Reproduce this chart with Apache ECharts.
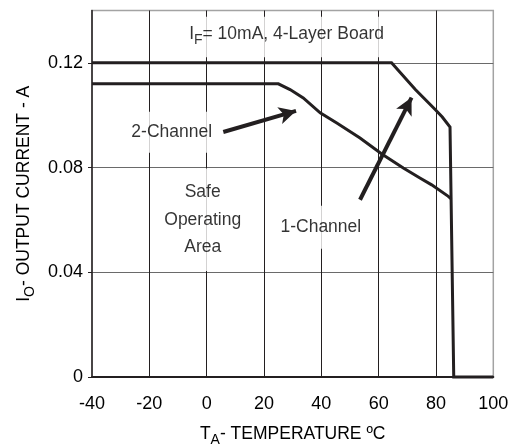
<!DOCTYPE html>
<html><head><meta charset="utf-8">
<script src="https://cdn.jsdelivr.net/npm/echarts@6/dist/echarts.min.js"></script>
<style>html,body{margin:0;padding:0;background:#fff}#c{width:512px;height:447px}</style>
</head><body><div id="c"></div>
<script>
// ---- data ----
const xTicks = [-40, -20, 0, 20, 40, 60, 80, 100];
const yTicks = [0, 0.04, 0.08, 0.12];
const oneChannelT = [-40, 64.5, 72.8, 79.8, 82.2, 84.9, 86.2, 100];
const oneChannelI = [0.12, 0.12, 0.1098, 0.1021, 0.0993, 0.0955, 0, 0];
const twoChannelT = [-40, 25, 29.1, 33.7, 39.6, 45.4, 53.5, 61.1, 68.6, 74.4, 78.5, 84.3, 85.3];
const twoChannelI = [0.112, 0.112, 0.1098, 0.1066, 0.1009, 0.097, 0.0913, 0.0852, 0.0798, 0.076, 0.0734, 0.069, 0.068];

const FONT = "'Liberation Sans','Arial',sans-serif";
const INK = '#231f20';
const TXT = '#000000';
const FS = 17.5;

const pairs = (xs, ys) => xs.map((x, i) => [x, ys[i]]);
const mainTok = {fontSize: FS, lineHeight: FS, verticalAlign: 'top', fontFamily: FONT, color: TXT};
const subTok = {fontSize: 14, lineHeight: 14, padding: [8, 0, 0, 0], verticalAlign: 'top', fontFamily: FONT, color: TXT};

function note(x, y, text, pad, lh, rich) {
  return {
    value: [x, y],
    label: {
      show: true, position: 'inside', formatter: text,
      fontSize: FS, lineHeight: lh || FS, fontFamily: FONT, color: TXT,
      backgroundColor: '#fff', padding: pad, align: 'center', verticalAlign: 'middle',
      rich: rich
    }
  };
}

const chart = echarts.init(document.getElementById('c'), null, {renderer: 'canvas'});
chart.setOption({
  animation: false,
  backgroundColor: '#fff',
  grid: {left: 92, right: 18.7, top: 10.5, bottom: 70, show: true, borderColor: '#a3a3a3', borderWidth: 1.5,
         containLabel: false, outerBoundsMode: 'none'},
  xAxis: {
    type: 'value', min: xTicks[0], max: xTicks[xTicks.length - 1], interval: 20,
    axisLine: {show: true, onZero: false, lineStyle: {color: INK, width: 2}},
    axisTick: {show: false},
    axisLabel: {margin: 18.5, fontSize: 18, color: TXT, fontFamily: FONT},
    splitLine: {show: true, showMinLine: false, showMaxLine: false, lineStyle: {color: INK, width: 1}},
    name: '{m|T}{s|A}{m|- TEMPERATURE ºC}', nameLocation: 'middle', nameGap: 48,
    nameTextStyle: {rich: {m: mainTok, s: subTok}}
  },
  yAxis: {
    type: 'value', min: yTicks[0], max: 0.14, interval: 0.04,
    axisLine: {show: true, onZero: false, lineStyle: {color: INK, width: 1.5}},
    axisTick: {show: true, length: 4, lineStyle: {color: INK, width: 1}},
    axisLabel: {margin: 9, fontSize: 18, color: TXT, fontFamily: FONT, showMaxLabel: false,
      formatter: v => (Math.abs(v) < 1e-9 ? '0' : v.toFixed(2))},
    splitLine: {show: true, showMinLine: false, showMaxLine: false, lineStyle: {color: '#6a6a6a', width: 1.2}},
    name: '{m|I}{s|O}{m|- OUTPUT CURRENT - A}', nameLocation: 'middle', nameGap: 49.5, nameRotate: 90,
    nameTextStyle: {rich: {m: mainTok, s: subTok}}
  },
  series: [
    {
      type: 'scatter', z: 3, symbolSize: 0, silent: true,
      data: [
        note(27.87, 0.12988, '{m|I}{s|F}{m|= 10mA, 4-Layer Board}', [8.75, 6, 14.25, 6], FS, {m: mainTok, s: subTok}),
        note(-12.19, 0.09353, '2-Channel', [9.25, 3, 14.25, 3], FS),
        note(-1.38, 0.06006, 'Safe\nOperating\nArea', [11, 4, 9, 4], 27.5),
        note(39.83, 0.05719, '1-Channel', [5.25, 3, 20.25, 3], FS)
      ]
    },
    {
      name: '1-Channel', type: 'line', z: 5, clip: false, symbol: 'none', silent: true,
      data: pairs(oneChannelT, oneChannelI),
      lineStyle: {color: INK, width: 3, join: 'miter'}
    },
    {
      name: '2-Channel', type: 'line', z: 5, clip: false, symbol: 'none', silent: true,
      data: pairs(twoChannelT, twoChannelI),
      lineStyle: {color: INK, width: 3, join: 'miter'},
      markLine: {
        silent: true, symbol: ['none', 'arrow'], symbolSize: [13, 17],
        label: {show: false},
        lineStyle: {color: INK, width: 4, type: 'solid'},
        itemStyle: {color: INK},
        data: [
          [{coord: [5.8, 0.0936]}, {coord: [31.18, 0.10164]}],
          [{coord: [53.5, 0.0677]}, {coord: [71.48, 0.10673]}]
        ]
      }
    }
  ]
});
</script></body></html>
